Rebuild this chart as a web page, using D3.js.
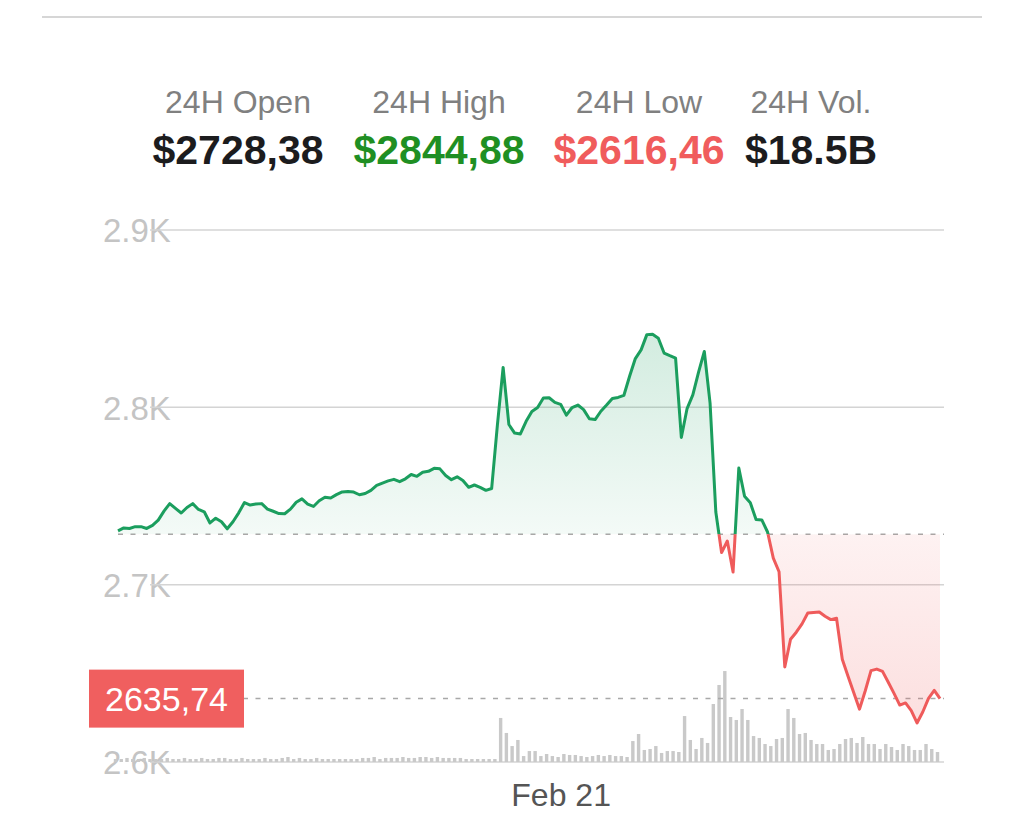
<!DOCTYPE html>
<html><head><meta charset="utf-8">
<script src="https://cdn.jsdelivr.net/npm/d3@7"></script>
<style>body{margin:0;background:#fff;} svg{display:block;font-family:"Liberation Sans",Arial,sans-serif;}</style>
</head><body><svg id="c" width="1024" height="835"></svg>
<script>
// ---- data ----
const statLabels = ["24H Open", "24H High", "24H Low", "24H Vol."];
const statValues = ["$2728,38", "$2844,88", "$2616,46", "$18.5B"];
const statKinds = ["neutral", "up", "down", "neutral"];
const openPrice = 2728.38;
const lastPrice = 2635.74;
const lastLabel = "2635,74";
const yTicks = [2600, 2700, 2800, 2900];
const yTickLabels = ["2.6K", "2.7K", "2.8K", "2.9K"];
const xTickDates = [new Date(2022, 1, 21, 0, 0)];
const xTickLabels = ["Feb 21"];
const startTime = new Date(2022, 1, 20, 11, 10);
const stepMinutes = 10;
const prices = [
  2730.3, 2732.0, 2731.7, 2732.7, 2732.7, 2731.7, 2733.4, 2736.4, 2741.5, 2745.7,
  2743.0, 2740.4, 2743.5, 2745.7, 2742.4, 2741.1, 2734.8, 2737.5, 2735.5, 2731.5,
  2735.5, 2740.5, 2746.3, 2744.9, 2745.5, 2745.7, 2742.6, 2741.4, 2740.1, 2740.0,
  2742.6, 2746.5, 2748.4, 2745.4, 2744.1, 2747.3, 2749.3, 2748.9, 2750.8, 2752.3,
  2752.6, 2752.2, 2750.7, 2751.4, 2753.2, 2756.0, 2757.3, 2758.5, 2759.4, 2758.1,
  2759.7, 2762.1, 2761.1, 2763.4, 2763.9, 2765.6, 2765.3, 2761.6, 2759.2, 2760.8,
  2758.7, 2754.9, 2756.2, 2754.9, 2753.2, 2754.2, 2790.0, 2822.5, 2790.3, 2785.5,
  2785.0, 2792.1, 2797.7, 2799.9, 2805.3, 2805.4, 2802.8, 2801.7, 2795.6, 2799.9,
  2801.3, 2798.7, 2793.6, 2793.1, 2797.8, 2801.3, 2805.0, 2805.6, 2806.7, 2817.5,
  2827.5, 2832.4, 2841.0, 2841.2, 2839.0, 2830.6, 2829.1, 2827.7, 2783.0, 2799.3,
  2807.0, 2819.8, 2831.5, 2802.4, 2741.0, 2718.1, 2724.6, 2707.1, 2765.8, 2749.9,
  2746.2, 2736.7, 2736.5, 2729.7, 2715.0, 2707.3, 2653.6, 2669.2, 2673.2, 2677.9,
  2684.0, 2684.3, 2684.6, 2682.2, 2680.3, 2681.1, 2657.9, 2648.3, 2639.0, 2629.8,
  2640.2, 2651.5, 2652.4, 2651.1, 2645.0, 2638.7, 2632.1, 2633.3, 2629.0, 2622.0,
  2628.2, 2635.9, 2640.4, 2635.74
];
// volume per 10 min, $M
const volumes = [
  28, 28, 38, 28, 28, 38, 28, 28, 28, 38,
  28, 28, 38, 28, 28, 38, 28, 28, 38, 38,
  28, 28, 38, 28, 28, 28, 38, 28, 28, 38,
  47, 28, 38, 28, 28, 38, 28, 28, 28, 28,
  28, 28, 28, 38, 38, 47, 28, 38, 38, 38,
  47, 38, 38, 47, 47, 38, 47, 38, 38, 38,
  38, 28, 28, 28, 28, 28, 28, 414, 273, 150,
  207, 56, 103, 103, 56, 75, 56, 47, 75, 66,
  66, 56, 47, 56, 66, 56, 66, 56, 56, 47,
  197, 263, 113, 122, 150, 85, 103, 103, 94, 432,
  207, 122, 226, 179, 545, 724, 855, 423, 395, 498,
  395, 244, 226, 169, 150, 216, 226, 498, 414, 263,
  273, 207, 169, 169, 113, 122, 169, 216, 226, 179,
  235, 169, 169, 122, 169, 141, 113, 169, 150, 113,
  113, 169, 122, 94
];

// ---- setup ----
const svg = d3.select("#c");
const times = prices.map((_, i) => d3.timeMinute.offset(startTime, i * stepMinutes));
const x = d3.scaleTime().domain([times[0], times[times.length - 1]]).range([118, 940]);
const y = d3.scaleLinear().domain([2600, 2900]).range([762, 230]);
const vh = d3.scaleLinear().domain([0, 940]).range([0, 100]);
const GREEN = "#1b9e5e", RED = "#ef5b5b";
const statColors = {neutral: "#1c1c1e", up: "#1f8f23", down: "#f05c5c"};

// top divider
svg.append("line").attr("x1", 42).attr("x2", 982).attr("y1", 17).attr("y2", 17)
  .attr("stroke", "#d6d6d6").attr("stroke-width", 2);

// header stats
const statX = d3.scalePoint().domain(statLabels).range([238, 811]);
const statCx = [238, 439, 639, 811];
const hdr = svg.append("g");
statLabels.forEach((lab, i) => {
  hdr.append("text").attr("x", statCx[i]).attr("y", 113).attr("text-anchor", "middle")
    .attr("font-size", 32).attr("fill", "#808080").text(lab);
  hdr.append("text").attr("x", statCx[i]).attr("y", 164).attr("text-anchor", "middle")
    .attr("font-size", 41).attr("font-weight", "bold").attr("fill", statColors[statKinds[i]])
    .text(statValues[i]);
});

// y axis labels (drawn with d3 axis)
const yAxis = d3.axisRight(y).tickValues(yTicks).tickSize(0).tickPadding(0)
  .tickFormat((d, i) => yTickLabels[i]);
const ya = svg.append("g").attr("transform", "translate(103,0)").call(yAxis);
ya.select(".domain").remove();
ya.selectAll("text").attr("font-size", 33).attr("fill", "#c4c4c4")
  .attr("font-family", "Liberation Sans, Arial, sans-serif").attr("dy", "0.36em").attr("x", 0);

// gridlines
svg.append("g").selectAll("line").data(yTicks).join("line")
  .attr("x1", 150).attr("x2", 944).attr("y1", d => y(d)).attr("y2", d => y(d))
  .attr("stroke", "#d4d4d4").attr("stroke-width", 1.5);

// volume bars
svg.append("g").selectAll("rect").data(volumes).join("rect")
  .attr("x", (d, i) => x(times[i]) - 4.2)
  .attr("width", 3.4)
  .attr("y", d => y(2600) - vh(d))
  .attr("height", d => vh(d))
  .attr("fill", "#c9c9c9");

// dashed reference lines
svg.append("line").attr("x1", 118).attr("x2", 944).attr("y1", y(openPrice)).attr("y2", y(openPrice))
  .attr("stroke", "#a8a8a8").attr("stroke-width", 1.5).attr("stroke-dasharray", "5,7.5");
svg.append("line").attr("x1", 118).attr("x2", 944).attr("y1", y(lastPrice)).attr("y2", y(lastPrice))
  .attr("stroke", "#a8a8a8").attr("stroke-width", 1.5).attr("stroke-dasharray", "5,7.5");

// gradients & clips
const defs = svg.append("defs");
const gG = defs.append("linearGradient").attr("id", "gG").attr("gradientUnits", "userSpaceOnUse")
  .attr("x1", 0).attr("x2", 0).attr("y1", y(2845)).attr("y2", y(openPrice));
gG.append("stop").attr("offset", 0).attr("stop-color", GREEN).attr("stop-opacity", 0.2);
gG.append("stop").attr("offset", 1).attr("stop-color", GREEN).attr("stop-opacity", 0.05);
const gR = defs.append("linearGradient").attr("id", "gR").attr("gradientUnits", "userSpaceOnUse")
  .attr("x1", 0).attr("x2", 0).attr("y1", y(openPrice)).attr("y2", y(2616));
gR.append("stop").attr("offset", 0).attr("stop-color", RED).attr("stop-opacity", 0.08);
gR.append("stop").attr("offset", 1).attr("stop-color", RED).attr("stop-opacity", 0.2);
defs.append("clipPath").attr("id", "cA").append("rect")
  .attr("x", 0).attr("y", 0).attr("width", 1024).attr("height", y(openPrice));
defs.append("clipPath").attr("id", "cB").append("rect")
  .attr("x", 0).attr("y", y(openPrice)).attr("width", 1024).attr("height", 835 - y(openPrice));

const area = d3.area().x((d, i) => x(times[i])).y0(y(openPrice)).y1(d => y(d));
const line = d3.line().x((d, i) => x(times[i])).y(d => y(d));

svg.append("path").datum(prices).attr("d", area).attr("fill", "url(#gG)").attr("clip-path", "url(#cA)");
svg.append("path").datum(prices).attr("d", area).attr("fill", "url(#gR)").attr("clip-path", "url(#cB)");
svg.append("path").datum(prices).attr("d", line).attr("fill", "none").attr("stroke", GREEN)
  .attr("stroke-width", 3).attr("stroke-linejoin", "round").attr("clip-path", "url(#cA)");
svg.append("path").datum(prices).attr("d", line).attr("fill", "none").attr("stroke", RED)
  .attr("stroke-width", 3).attr("stroke-linejoin", "round").attr("clip-path", "url(#cB)");

// current price badge
const by = y(lastPrice);
svg.append("rect").attr("x", 89).attr("y", by - 29).attr("width", 155).attr("height", 58)
  .attr("fill", "#f05f5f");
svg.append("text").attr("x", 166.5).attr("y", by + 12).attr("text-anchor", "middle")
  .attr("font-size", 34).attr("fill", "#fff").text(lastLabel);

// x axis
const xAxis = d3.axisBottom(x).tickValues(xTickDates).tickSize(0).tickPadding(0)
  .tickFormat((d, i) => xTickLabels[i]);
const xa = svg.append("g").attr("transform", "translate(0,782)").call(xAxis);
xa.select(".domain").remove();
xa.selectAll("text").attr("font-size", 32).attr("fill", "#555")
  .attr("font-family", "Liberation Sans, Arial, sans-serif").attr("dy", "0.75em");
</script>
</body></html>
